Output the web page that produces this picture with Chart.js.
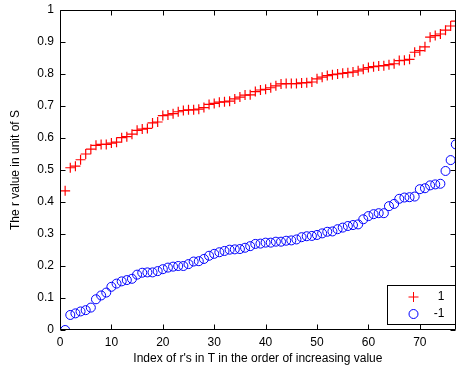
<!DOCTYPE html>
<html>
<head>
<meta charset="utf-8">
<script src="https://cdn.jsdelivr.net/npm/chart.js@4.4.0/dist/chart.umd.min.js"></script>
<style>
  html, body { margin: 0; padding: 0; background: #fff; }
</style>
</head>
<body>
<canvas id="chart" width="462" height="371"></canvas>
<script>
// values, index 1..77
const positive = [
  0.435, 0.507, 0.512, 0.532, 0.550, 0.565, 0.577, 0.580, 0.580, 0.584,
  0.587, 0.601, 0.604, 0.612, 0.624, 0.628, 0.630, 0.647, 0.650, 0.670,
  0.672, 0.676, 0.682, 0.686, 0.688, 0.688, 0.690, 0.695, 0.705, 0.708,
  0.712, 0.713, 0.715, 0.722, 0.728, 0.734, 0.735, 0.745, 0.750, 0.752,
  0.757, 0.763, 0.769, 0.770, 0.770, 0.770, 0.772, 0.773, 0.775, 0.785,
  0.790, 0.795, 0.798, 0.800, 0.802, 0.804, 0.806, 0.810, 0.815, 0.820,
  0.823, 0.825, 0.826, 0.829, 0.832, 0.842, 0.843, 0.846, 0.868, 0.873,
  0.885, 0.915, 0.920, 0.925, 0.937, 0.950, 0.965
];
const negative = [
  0.000, 0.047, 0.052, 0.058, 0.062, 0.070, 0.096, 0.108, 0.117, 0.135,
  0.145, 0.152, 0.156, 0.160, 0.173, 0.179, 0.180, 0.180, 0.184, 0.190,
  0.195, 0.198, 0.200, 0.200, 0.206, 0.214, 0.215, 0.222, 0.232, 0.238,
  0.243, 0.247, 0.251, 0.252, 0.253, 0.257, 0.262, 0.269, 0.270, 0.273,
  0.273, 0.276, 0.276, 0.279, 0.280, 0.283, 0.290, 0.293, 0.294, 0.297,
  0.302, 0.307, 0.308, 0.315, 0.320, 0.325, 0.328, 0.330, 0.346, 0.356,
  0.362, 0.365, 0.365, 0.387, 0.394, 0.410, 0.414, 0.415, 0.417, 0.440,
  0.443, 0.452, 0.455, 0.457, 0.497, 0.531, 0.580
];
const seriesLabels = ['1', '-1'];
const xTicks = [0, 10, 20, 30, 40, 50, 60, 70];
const yTicks = [0, 0.1, 0.2, 0.3, 0.4, 0.5, 0.6, 0.7, 0.8, 0.9, 1];

const toPoints = arr => arr.map((v, i) => ({ x: i + 1, y: v }));
const font = { family: '"Liberation Sans", Arial, sans-serif', size: 12 };

// matlab style box with inward ticks on all sides
const frame = {
  id: 'frame',
  afterDatasetsDraw(chart) {
    const { ctx, chartArea: a, scales } = chart;
    const L = Math.round(a.left) + 0.5, R = Math.round(a.right) - 0.5;
    const T = Math.round(a.top) + 0.5, B = Math.round(a.bottom) - 0.5;
    ctx.save();
    ctx.strokeStyle = '#000';
    ctx.lineWidth = 1;
    ctx.beginPath();
    ctx.rect(L, T, R - L, B - T);
    xTicks.forEach(v => {
      const px = Math.round(scales.x.getPixelForValue(v)) + 0.5;
      ctx.moveTo(px, B); ctx.lineTo(px, B - 5);
      ctx.moveTo(px, T); ctx.lineTo(px, T + 5);
    });
    yTicks.forEach(v => {
      const py = Math.round(scales.y.getPixelForValue(v)) + 0.5;
      ctx.moveTo(L, py); ctx.lineTo(L + 5, py);
      ctx.moveTo(R, py); ctx.lineTo(R - 5, py);
    });
    ctx.stroke();
    ctx.restore();
  }
};

// legend box in the lower right corner
const boxLegend = {
  id: 'boxLegend',
  afterDraw(chart) {
    const { ctx, chartArea: a } = chart;
    const w = 68, h = 39;
    const x0 = Math.round(a.right) - w - 0.5, y0 = Math.round(a.bottom) - h - 5.5;
    ctx.save();
    ctx.fillStyle = '#fff';
    ctx.fillRect(x0, y0, w, h);
    ctx.strokeStyle = '#000';
    ctx.lineWidth = 1;
    ctx.strokeRect(x0, y0, w, h);
    chart.data.datasets.forEach((ds, i) => {
      const cx = x0 + 26, cy = Math.round(y0 + 11 + i * 17.5);
      ctx.strokeStyle = ds.borderColor;
      ctx.lineWidth = 1;
      ctx.beginPath();
      if (ds.pointStyle === 'cross') {
        ctx.moveTo(cx - 5, cy); ctx.lineTo(cx + 5, cy);
        ctx.moveTo(cx, cy - 5); ctx.lineTo(cx, cy + 5);
      } else {
        ctx.arc(cx, cy, ds.pointRadius, 0, Math.PI * 2);
      }
      ctx.stroke();
      ctx.fillStyle = '#000';
      ctx.font = '12px "Liberation Sans", Arial, sans-serif';
      ctx.textAlign = 'right';
      ctx.textBaseline = 'middle';
      ctx.fillText(ds.label, x0 + 57, cy);
    });
    ctx.restore();
  }
};

new Chart(document.getElementById('chart'), {
  type: 'scatter',
  data: {
    datasets: [
      {
        label: seriesLabels[0],
        data: toPoints(positive),
        pointStyle: 'cross',
        pointRadius: 5,
        borderColor: '#ff0000',
        backgroundColor: '#ff0000',
        borderWidth: 1.2
      },
      {
        label: seriesLabels[1],
        data: toPoints(negative),
        pointStyle: 'circle',
        pointRadius: 4.5,
        borderColor: '#0000ff',
        backgroundColor: 'rgba(0,0,0,0)',
        borderWidth: 1
      }
    ]
  },
  options: {
    responsive: false,
    animation: false,
    layout: { padding: { top: 10, right: 2, left: 0, bottom: 0 } },
    plugins: { legend: { display: false }, tooltip: { enabled: false } },
    scales: {
      x: {
        type: 'linear',
        min: 0,
        max: 77,
        grid: { display: false, drawTicks: false },
        border: { display: false },
        afterBuildTicks: s => { s.ticks = xTicks.map(v => ({ value: v })); },
        afterFit: s => { s.height = 41; s.paddingRight = 0; },
        ticks: { color: '#000', font: font, padding: 5, maxRotation: 0 },
        title: {
          display: true,
          text: "Index of r's in T in the order of increasing value",
          color: '#000',
          font: font,
          padding: { top: 0, bottom: 5 }
        }
      },
      y: {
        min: 0,
        max: 1,
        grid: { display: false, drawTicks: false },
        border: { display: false },
        afterBuildTicks: s => { s.ticks = yTicks.map(v => ({ value: v })); },
        afterFit: s => { s.width = 60; s.paddingTop = 0; s.paddingBottom = 0; },
        ticks: { color: '#000', font: font, padding: 6, callback: v => String(v) },
        title: {
          display: true,
          text: 'The r value in unit of S',
          color: '#000',
          font: font,
          padding: { top: 8, bottom: 0 }
        }
      }
    }
  },
  plugins: [frame, boxLegend]
});
</script>
</body>
</html>
